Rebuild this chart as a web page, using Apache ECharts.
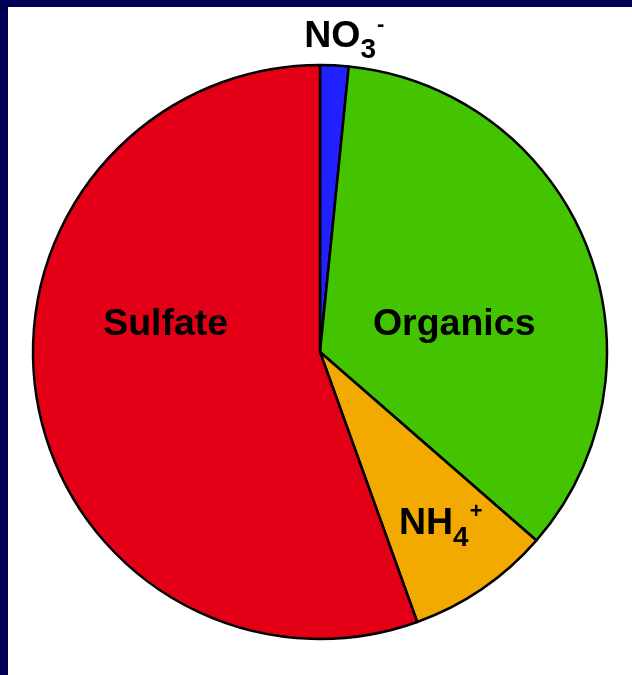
<!DOCTYPE html>
<html>
<head>
<meta charset="utf-8">
<script src="https://cdn.jsdelivr.net/npm/echarts@6/dist/echarts.min.js"></script>
<style>
  html, body { margin: 0; padding: 0; }
  #frame { position: relative; width: 632px; height: 675px; background: #000055; overflow: hidden; }
  #chart { position: absolute; left: 8px; top: 7px; width: 624px; height: 668px; background: #ffffff; }
</style>
</head>
<body>
<div id="frame"><div id="chart"></div></div>
<script>
// Data (clockwise from 12 o'clock)
const categories = ['NO3-', 'Organics', 'NH4+', 'Sulfate'];
const values = [1.6, 34.8, 8.1, 55.5];
const labelTexts = ['{b|NO}{sub|3}{sup|-}', '{b|Organics}', '{b|NH}{sub|4}{sup|+}', '{b|Sulfate}'];

// Styling
const colors = ['#2121FF', '#44C300', '#F2AA00', '#E30016'];
const labelShift = [[17, -169], [-2, 27], [38, 51], [-10, -53]];

const chart = echarts.init(document.getElementById('chart'), null, { renderer: 'canvas' });

const FONT = 'Liberation Sans';
const richStyles = {
  b: { fontFamily: FONT, fontWeight: 'bold', fontSize: 37.5, color: '#000', lineHeight: 56, verticalAlign: 'middle' },
  sub: { fontFamily: FONT, fontWeight: 'bold', fontSize: 28, color: '#000', lineHeight: 56, verticalAlign: 'bottom' },
  sup: { fontFamily: FONT, fontWeight: 'bold', fontSize: 22, color: '#000', lineHeight: 26, verticalAlign: 'top', padding: [5, 0, 0, 1] }
};

chart.setOption({
  animation: false,
  series: [{
    type: 'pie',
    center: [312, 345],
    radius: [0, 287],
    startAngle: 90,
    clockwise: true,
    avoidLabelOverlap: false,
    label: {
      show: true,
      position: 'inside',
      formatter: function (p) { return labelTexts[p.dataIndex]; },
      rich: richStyles
    },
    labelLine: { show: false },
    labelLayout: function (params) {
      const s = labelShift[params.dataIndex];
      return { dx: s[0], dy: s[1] };
    },
    itemStyle: { borderColor: '#000', borderWidth: 2.5 },
    emphasis: { disabled: true },
    data: categories.map(function (c, i) {
      return { name: c, value: values[i], itemStyle: { color: colors[i] } };
    })
  }]
});
</script>
</body>
</html>
